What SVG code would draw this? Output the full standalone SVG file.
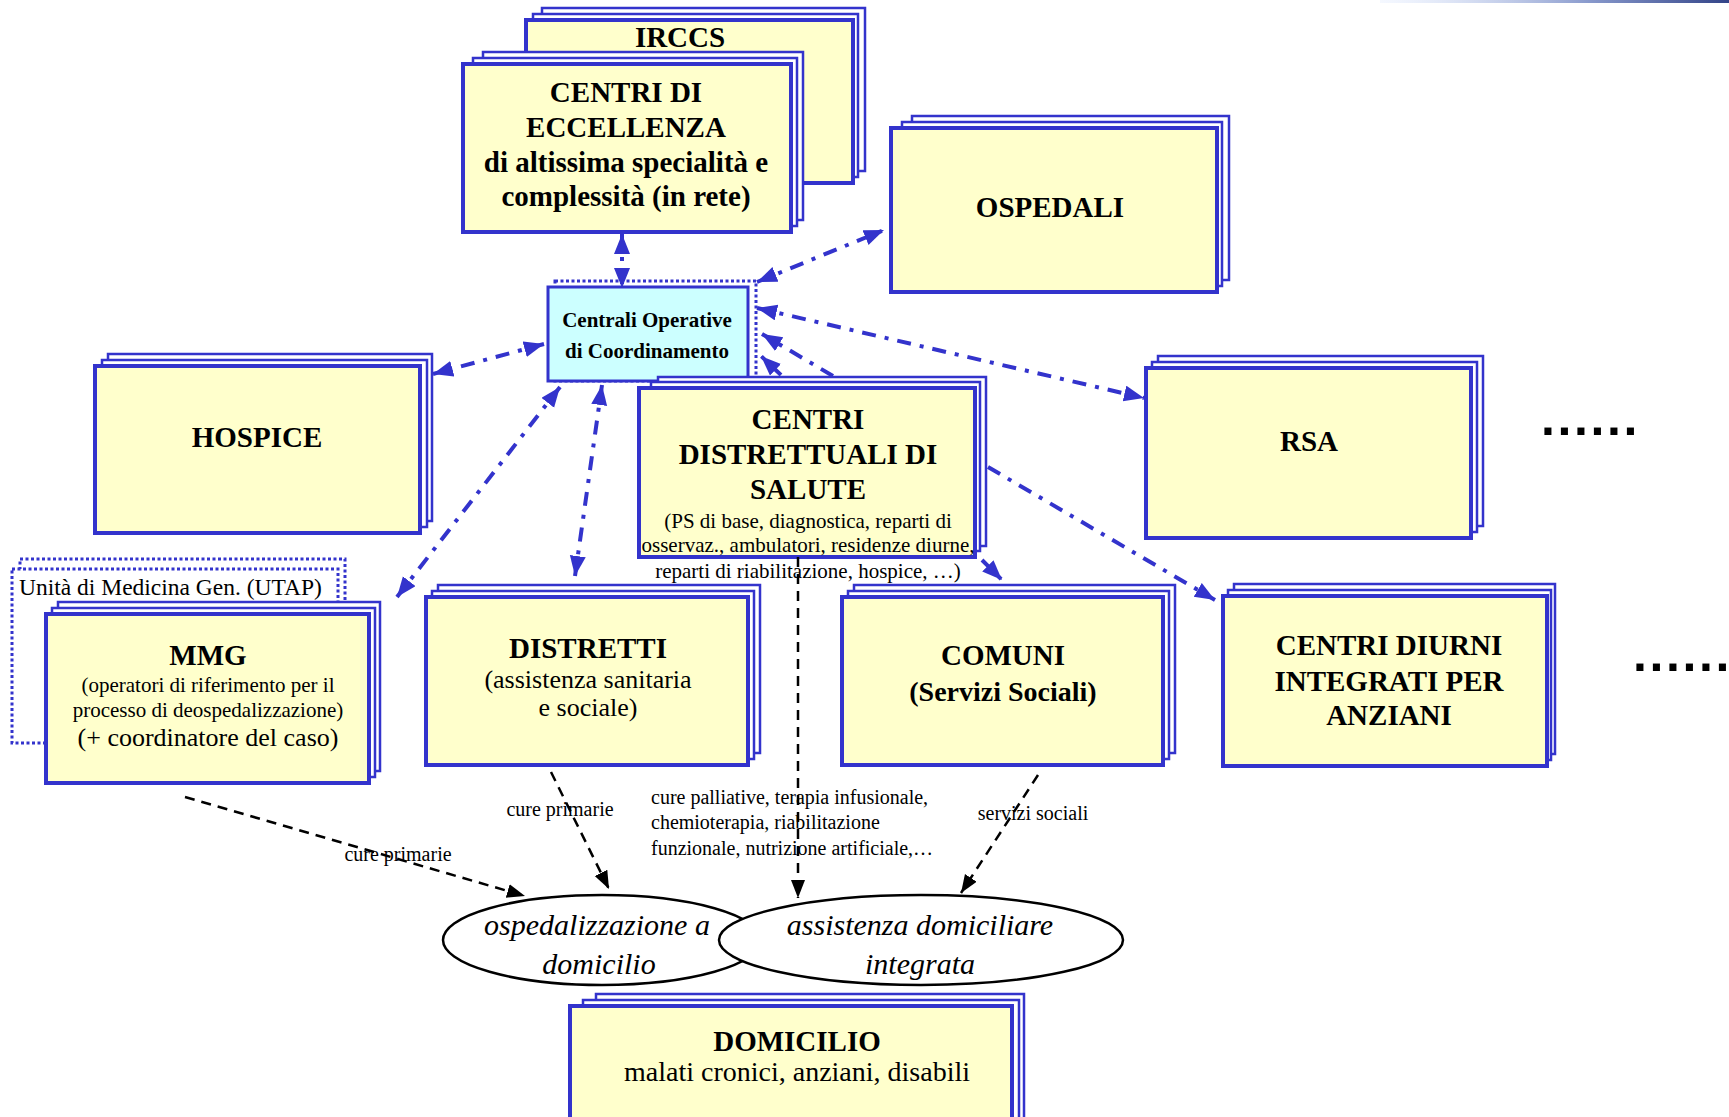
<svg xmlns="http://www.w3.org/2000/svg" width="1729" height="1117" viewBox="0 0 1729 1117">
<defs>
<style>
.bk{fill:#fff;stroke:#3333cc;stroke-width:2.5}
.fr{fill:#ffffcc;stroke:#3333cc;stroke-width:4}
.cy{fill:#ccffff;stroke:#3333cc;stroke-width:3}
.dot{fill:#fff;stroke:#3333cc;stroke-width:3;stroke-dasharray:3 2.5}
.t{font-family:"Liberation Serif","Times New Roman",serif;fill:#000;text-anchor:middle}
.b{font-weight:bold;font-size:29px}
.s{font-size:21px}
.m{font-size:26px}
.l{font-size:20px}
.it{font-style:italic;font-size:30px}
.bl{fill:none;stroke:#3333cc;stroke-width:4;stroke-dasharray:14 9 4 9}
.kd{fill:none;stroke:#000;stroke-width:2.5;stroke-dasharray:10 7}
.el{fill:#fff;stroke:#000;stroke-width:2.5}
</style>
<marker id="ab" markerUnits="userSpaceOnUse" markerWidth="22" markerHeight="18" refX="20" refY="8" orient="auto-start-reverse"><path d="M0,0 L20,8 L0,16 z" fill="#3333cc"/></marker>
<marker id="ak" markerUnits="userSpaceOnUse" markerWidth="20" markerHeight="16" refX="18" refY="7" orient="auto"><path d="M0,0 L18,7 L0,14 z" fill="#000"/></marker>
<linearGradient id="gr" x1="0" y1="0" x2="1" y2="0"><stop offset="0" stop-color="#dde8ff" stop-opacity="0.3"/><stop offset="0.6" stop-color="#8899cc"/><stop offset="1" stop-color="#334488"/></linearGradient>
</defs>
<rect width="1729" height="1117" fill="#fff"/>
<rect x="1380" y="0" width="349" height="3" fill="url(#gr)"/>

<g id="irccs">
<rect class="bk" x="542" y="8" width="323" height="163"/>
<rect class="bk" x="533" y="14" width="325" height="163"/>
<rect class="fr" x="526" y="20" width="327" height="163"/>
<text class="t b" x="680" y="47">IRCCS</text>
</g>

<g id="eccellenza">
<rect class="bk" x="483" y="52" width="320" height="168"/>
<rect class="bk" x="473" y="58" width="324" height="168"/>
<rect class="fr" x="463" y="64" width="328" height="168"/>
<text class="t b" x="626" y="102">CENTRI DI</text>
<text class="t b" x="626" y="137">ECCELLENZA</text>
<text class="t b" x="626" y="172">di altissima specialità e</text>
<text class="t b" x="626" y="206">complessità (in rete)</text>
</g>

<g id="ospedali">
<rect class="bk" x="912" y="116" width="317" height="164"/>
<rect class="bk" x="902" y="122" width="320" height="164"/>
<rect class="fr" x="891" y="128" width="326" height="164"/>
<text class="t b" x="1050" y="217">OSPEDALI</text>
</g>

<g id="hospice">
<rect class="bk" x="108" y="354" width="324" height="167"/>
<rect class="bk" x="102" y="360" width="325" height="167"/>
<rect class="fr" x="95" y="366" width="325" height="167"/>
<text class="t b" x="257" y="447">HOSPICE</text>
</g>

<g id="rsa">
<rect class="bk" x="1158" y="356" width="325" height="170"/>
<rect class="bk" x="1152" y="362" width="325" height="170"/>
<rect class="fr" x="1146" y="368" width="325" height="170"/>
<text class="t b" x="1309" y="451">RSA</text>
</g>

<g id="utap">
<rect class="dot" x="20" y="559" width="325" height="170"/>
<rect class="dot" x="12" y="569" width="326" height="174"/>
<text class="t" style="font-size:23.5px;text-anchor:start" x="19" y="595">Unità di Medicina Gen. (UTAP)</text>
</g>

<g id="mmg">
<rect class="bk" x="58" y="602" width="322" height="169"/>
<rect class="bk" x="52" y="608" width="323" height="169"/>
<rect class="fr" x="46" y="614" width="323" height="169"/>
<text class="t b" x="208" y="665">MMG</text>
<text class="t s" x="208" y="692">(operatori di riferimento per il</text>
<text class="t s" x="208" y="717">processo di deospedalizzazione)</text>
<text class="t m" x="208" y="746">(+ coordinatore del caso)</text>
</g>

<g id="centrali">
<rect class="dot" x="555" y="281" width="201" height="100" style="fill:none"/>
<rect class="cy" x="548" y="287" width="200" height="94"/>
<text class="t" style="font-weight:bold;font-size:21px" x="647" y="327">Centrali Operative</text>
<text class="t" style="font-weight:bold;font-size:21px" x="647" y="358">di Coordinamento</text>
</g>

<g id="cds">
<rect class="bk" x="658" y="377" width="328" height="169"/>
<rect class="bk" x="651" y="382" width="329" height="169"/>
<rect class="fr" x="639" y="388" width="336" height="169"/>
<text class="t b" x="808" y="429">CENTRI</text>
<text class="t b" x="808" y="464">DISTRETTUALI DI</text>
<text class="t b" x="808" y="499">SALUTE</text>
<text class="t s" x="808" y="528">(PS di base, diagnostica, reparti di</text>
<text class="t s" x="808" y="552">osservaz., ambulatori, residenze diurne,</text>
<text class="t s" x="808" y="578">reparti di riabilitazione, hospice, …)</text>
</g>

<g id="distretti">
<rect class="bk" x="438" y="585" width="322" height="168"/>
<rect class="bk" x="432" y="591" width="322" height="168"/>
<rect class="fr" x="426" y="597" width="322" height="168"/>
<text class="t b" x="588" y="658">DISTRETTI</text>
<text class="t m" x="588" y="688">(assistenza sanitaria</text>
<text class="t m" x="588" y="716">e sociale)</text>
</g>

<g id="comuni">
<rect class="bk" x="854" y="585" width="321" height="168"/>
<rect class="bk" x="848" y="591" width="321" height="168"/>
<rect class="fr" x="842" y="597" width="321" height="168"/>
<text class="t b" x="1003" y="665">COMUNI</text>
<text class="t" style="font-weight:bold;font-size:28px" x="1003" y="701">(Servizi Sociali)</text>
</g>

<g id="diurni">
<rect class="bk" x="1234" y="584" width="321" height="170"/>
<rect class="bk" x="1228" y="590" width="323" height="170"/>
<rect class="fr" x="1223" y="596" width="324" height="170"/>
<text class="t b" x="1389" y="655">CENTRI DIURNI</text>
<text class="t b" x="1389" y="691">INTEGRATI PER</text>
<text class="t b" x="1389" y="725">ANZIANI</text>
</g>

<g id="ellissi">
<ellipse class="el" cx="602" cy="940" rx="159" ry="45"/>
<ellipse class="el" cx="921" cy="940" rx="202" ry="45"/>
<text class="t it" x="597" y="935">ospedalizzazione a</text>
<text class="t it" x="599" y="974">domicilio</text>
<text class="t it" x="920" y="935">assistenza domiciliare</text>
<text class="t it" x="920" y="974">integrata</text>
</g>

<g id="domicilio">
<rect class="bk" x="596" y="994" width="428" height="160"/>
<rect class="bk" x="583" y="1000" width="436" height="160"/>
<rect class="fr" x="570" y="1006" width="442" height="160"/>
<text class="t b" x="797" y="1051">DOMICILIO</text>
<text class="t" style="font-size:28px" x="797" y="1081">malati cronici, anziani, disabili</text>
</g>

<g id="puntini">
<text style="font-family:'Liberation Sans',Arial,sans-serif;font-weight:bold;font-size:50px;letter-spacing:2.6px" x="1541" y="435">......</text>
<text style="font-family:'Liberation Sans',Arial,sans-serif;font-weight:bold;font-size:50px;letter-spacing:2.6px" x="1633" y="671">......</text>
</g>

<g id="connettori">
<line class="bl" x1="622" y1="234" x2="622" y2="288" marker-start="url(#ab)" marker-end="url(#ab)"/>
<line class="bl" x1="757" y1="282" x2="884" y2="230" marker-start="url(#ab)" marker-end="url(#ab)"/>
<line class="bl" x1="757" y1="308" x2="1144" y2="398" marker-start="url(#ab)" marker-end="url(#ab)"/>
<line class="bl" x1="833" y1="376" x2="762" y2="334" marker-end="url(#ab)"/>
<line class="bl" x1="781" y1="375" x2="761" y2="356" marker-end="url(#ab)"/>
<line class="bl" x1="544" y1="344" x2="433" y2="374" marker-start="url(#ab)" marker-end="url(#ab)"/>
<line class="bl" x1="560" y1="387" x2="397" y2="597" marker-start="url(#ab)" marker-end="url(#ab)"/>
<line class="bl" x1="602" y1="385" x2="575" y2="576" marker-start="url(#ab)" marker-end="url(#ab)"/>
<line class="bl" x1="982" y1="560" x2="1002" y2="580" marker-end="url(#ab)"/>
<line class="bl" x1="988" y1="467" x2="1215" y2="600" marker-end="url(#ab)"/>
<line class="kd" x1="185" y1="797" x2="525" y2="896" marker-end="url(#ak)"/>
<line class="kd" x1="551" y1="772" x2="609" y2="889" marker-end="url(#ak)"/>
<line class="kd" x1="798" y1="557" x2="798" y2="898" marker-end="url(#ak)"/>
<line class="kd" x1="1038" y1="775" x2="961" y2="893" marker-end="url(#ak)"/>
<text class="t l" x="398" y="861">cure primarie</text>
<text class="t l" x="560" y="816">cure primarie</text>
<text class="t l" x="651" y="804" style="text-anchor:start">cure palliative, terapia infusionale,</text>
<text class="t l" x="651" y="829" style="text-anchor:start">chemioterapia, riabilitazione</text>
<text class="t l" x="651" y="855" style="text-anchor:start">funzionale, nutrizione artificiale,…</text>
<text class="t l" x="1033" y="820">servizi sociali</text>
</g>
</svg>
